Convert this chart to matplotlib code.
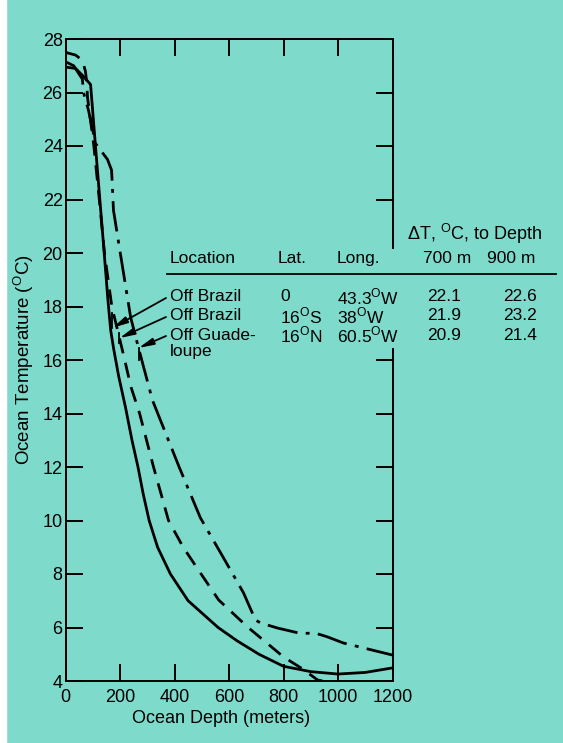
import matplotlib.pyplot as plt
from matplotlib.lines import Line2D
from matplotlib.patches import Rectangle

# Temperature profiles (depth in m, temperature in C)
depth_brazil_0 = [0, 37, 66, 92, 110, 126, 142, 156, 166, 177, 195, 220,
                  244, 266, 285, 307, 338, 385, 450, 505, 560, 630, 710, 800,
                  900, 1000, 1100, 1200]
temp_brazil_0 = [26.95, 26.9, 26.6, 26.3, 24.0, 22.0, 20.0, 18.2, 17.1, 16.4,
                 15.4, 14.24, 13.0, 12.0, 11.0, 10.0, 9.0, 8.0, 7.0, 6.5,
                 6.0, 5.5, 5.0, 4.55, 4.35, 4.26, 4.32, 4.49]

depth_brazil_16s = [0, 7, 37, 62, 73, 77, 81, 99, 104, 124, 143, 170, 198, 215,
                    240, 272, 323, 378, 432, 495, 562, 668, 800, 870, 925, 943]
temp_brazil_16s = [27.5, 27.48, 27.4, 27.2, 26.8, 26.47, 25.8, 24.4, 24.0,
                   22.0, 20.0, 18.0, 16.82, 16.1, 15.0, 14.0, 12.0, 10.0, 9.0,
                   8.04, 7.03, 6.02, 4.9, 4.45, 4.04, 4.0]

depth_guadeloupe = [0, 30, 62, 66, 84, 110, 154, 169, 172, 176, 201, 239, 268,
                    319, 417, 495, 580, 653, 697, 716, 778, 862, 917, 961, 1020,
                    1200]
temp_guadeloupe = [27.15, 27.0, 26.5, 26.0, 25.35, 24.1, 23.5, 23.1, 22.5,
                   21.6, 20.0, 17.6, 16.45, 14.5, 12.0, 10.1, 8.6, 7.3, 6.28,
                   6.17, 5.98, 5.78, 5.79, 5.65, 5.42, 4.97]

# Table
header_loc = ['Location', 'Lat.', 'Long.', '700 m', '900 m']
locations = ['Off Brazil', 'Off Brazil', 'Off Guade-']
lats = ['0', '16$^\\mathregular{O}$S', '16$^\\mathregular{O}$N']
longs = ['43.3$^\\mathregular{O}$W', '38$^\\mathregular{O}$W',
         '60.5$^\\mathregular{O}$W']
dt_700 = ['22.1', '21.9', '20.9']
dt_900 = ['22.6', '23.2', '21.4']

# arrow tips on the curves (depth, temp)
tips = [(172, 17.2), (198, 16.82), (268, 16.45)]

W, H = 563, 743
BG = '#7EDBCC'


def fig_xy(x, y):
    return x / W, 1 - y / H


plt.rcParams['font.family'] = ['Liberation Sans', 'DejaVu Sans']
plt.rcParams['mathtext.fontset'] = 'custom'
plt.rcParams['mathtext.rm'] = 'Liberation Sans'

fig = plt.figure(figsize=(W / 100, H / 100), dpi=100, facecolor=BG)
fig.patches.append(Rectangle((0, 0), 6 / W, 1, transform=fig.transFigure,
                             color='white', zorder=0))
ax = fig.add_axes([65.5 / W, 1 - 681 / H, 327 / W, 642 / H])
ax.set_facecolor(BG)

lw = 2.0
ax.plot(depth_brazil_0, temp_brazil_0, color='black', lw=lw,
        solid_capstyle='butt', solid_joinstyle='round')
ax.plot(depth_brazil_16s, temp_brazil_16s, color='black', lw=lw,
        linestyle=(0, (5.5, 3.5)), dash_capstyle='butt')
ax.plot(depth_guadeloupe, temp_guadeloupe, color='black', lw=lw,
        linestyle=(0, (11, 3, 1.4, 3)), dash_capstyle='butt')

ax.set_xlim(0, 1200)
ax.set_ylim(4, 28)
ax.set_xticks(range(0, 1201, 200))
ax.set_yticks(range(4, 29, 2))
ax.tick_params(direction='in', length=12, width=1.4, labelsize=13,
               top=True, right=False, colors='black')
ax.tick_params(axis='x', pad=6)
ax.tick_params(axis='y', pad=2)

# right-hand ticks only where the table does not cover the frame
axr = ax.twinx()
axr.set_ylim(4, 28)
axr.set_yticks([6, 8, 10, 12, 14, 16, 22, 24, 26])
axr.tick_params(direction='in', length=12, width=1.4, labelright=False)
for side in axr.spines:
    axr.spines[side].set_visible(False)

for side in ('left', 'top', 'bottom'):
    ax.spines[side].set_linewidth(1.4)
ax.spines['right'].set_visible(False)
yt = ax.get_yaxis_transform()
ax.plot([1, 1], [20.2, 28], transform=yt, color='black', lw=1.4,
        clip_on=False, solid_capstyle='projecting')
ax.plot([1, 1], [4, 16.4], transform=yt, color='black', lw=1.4,
        clip_on=False, solid_capstyle='projecting')

ax.set_xlabel('Ocean Depth (meters)', fontsize=13)
ax.xaxis.set_label_coords(0.475, -0.045)
ax.set_ylabel('Ocean Temperature ($^\\mathregular{O}$C)', fontsize=13.5)
ax.yaxis.set_label_coords(-0.09, 0.5)

# table text
fs = 12.5
fig.text(*fig_xy(407, 234), '\u0394T, $^\\mathregular{O}$C, to Depth',
         fontsize=13, va='center', ha='left')
col_x = [170, 278, 337, 423, 487]
for x, s in zip(col_x, header_loc):
    fig.text(*fig_xy(x, 258), s, fontsize=fs, va='center', ha='left')
fig.add_artist(Line2D([167 / W, 556 / W], [1 - 274 / H] * 2, color='black',
                      lw=1.3))
row_y = [297, 316, 335]
val_x = [170, 280, 337, 427, 503]
for i, y in enumerate(row_y):
    row = [locations[i], lats[i], longs[i], dt_700[i], dt_900[i]]
    for x, s in zip(val_x, row):
        fig.text(*fig_xy(x, y), s, fontsize=fs, va='center', ha='left')
fig.text(*fig_xy(170, 352), 'loupe', fontsize=fs, va='center', ha='left')

# arrows from the location names to the curves
for (tx, ty), y in zip(tips, row_y):
    ax.annotate('', xy=(tx, ty), xycoords='data',
                xytext=fig_xy(166, y + 1), textcoords='figure fraction',
                arrowprops=dict(arrowstyle='-|>,head_length=0.9,head_width=0.2',
                                color='black', lw=1.3, shrinkA=0, shrinkB=0))
tick_spans = [(17.2, 17.75), (16.65, 17.0), (16.0, 16.45)]
for (tx, _), (y0, y1) in zip(tips, tick_spans):
    ax.plot([tx, tx], [y0, y1], color='black', lw=1.3)

fig.savefig('out.png', dpi=100, facecolor=BG)
